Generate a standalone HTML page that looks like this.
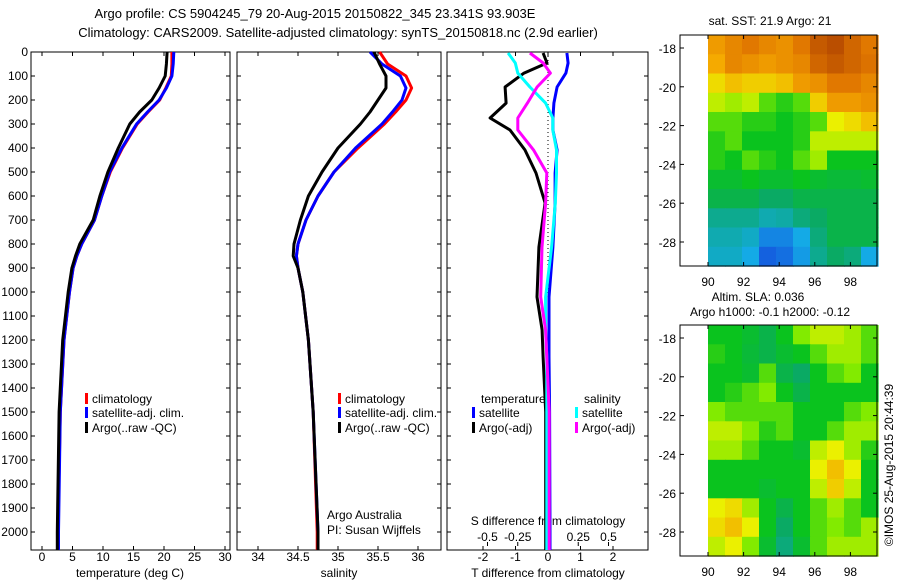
<!DOCTYPE html>
<html><head><meta charset="utf-8"><style>
html,body{margin:0;padding:0;background:#fff}
svg{display:block;font-family:"Liberation Sans",sans-serif}
</style></head><body>
<svg id="c" width="900" height="580" xmlns="http://www.w3.org/2000/svg"></svg>
<script>
// ---- data ----
const depths = [0,50,100,150,200,250,300,400,500,600,700,800,850,900,1000,1200,1500,2000,2075];
const tempArgo = [20.5,20.4,20.2,19.2,18,16,14.4,12.5,10.8,9.5,8.4,6.2,5.5,4.9,4.3,3.4,2.8,2.5,2.5];
const tempClim = [21.3,21.3,21.2,20.3,19.3,17.4,15.6,13.2,11.2,9.8,8.6,6.5,5.7,5.1,4.5,3.6,3.0,2.6,2.6];
const tempSat  = [21.6,21.5,21.3,20.4,19.2,17.3,15.5,13.1,11.1,9.8,8.6,6.5,5.7,5.1,4.5,3.6,3.0,2.7,2.7];
const salArgo = [35.45,35.52,35.6,35.6,35.5,35.4,35.28,35.0,34.8,34.63,34.53,34.45,34.44,34.5,34.56,34.63,34.69,34.75,34.75];
const salClim = [35.52,35.62,35.85,35.92,35.85,35.72,35.58,35.25,34.95,34.75,34.6,34.5,34.48,34.5,34.56,34.63,34.69,34.74,34.74];
const salSat  = [35.4,35.55,35.78,35.85,35.8,35.68,35.55,35.22,34.95,34.75,34.6,34.5,34.48,34.5,34.56,34.63,34.69,34.75,34.75];
const diffDepths = [4,46,88,146,213,275,325,408,504,629,813,1021,1158,1271,1500,2000,2075];
const tDiffArgo = [-0.15,-0.03,-0.74,-1.32,-1.29,-1.78,-1.17,-0.71,-0.37,-0.09,-0.28,-0.34,-0.18,-0.15,-0.07,-0.07,-0.07];
const tDiffSat  = [0.58,0.62,0.55,0.28,0.18,0.15,0.15,0.28,0.22,0.22,0.15,0.03,0.03,0.03,0.05,0.06,0.06];
const sDiffSat  = [-0.33,-0.27,-0.25,-0.15,-0.02,0.04,0.04,0.07,0.07,0.06,0.03,-0.02,-0.02,-0.01,-0.01,-0.01,-0.01];
const sDiffArgo = [-0.15,-0.04,0.02,-0.09,-0.17,-0.25,-0.25,-0.12,-0.01,-0.02,-0.05,-0.06,-0.02,-0.01,0.01,0.01,0.01];
const depthTicks = [0,100,200,300,400,500,600,700,800,900,1000,1100,1200,1300,1400,1500,1600,1700,1800,1900,2000];
const tempTicks = [0,5,10,15,20,25,30];
const salTicks = [34,34.5,35,35.5,36];
const salTickLabels = ['34','34.5','35','35.5','36'];
const tDiffTicks = [-2,-1,0,1,2];
const sDiffTicks = [-0.5,-0.25,0,0.25,0.5];
const sDiffTickLabels = ['-0.5','-0.25','0','0.25','0.5'];
const lonTicks = [90,92,94,96,98];
const latTicks = [-18,-20,-22,-24,-26,-28];
const sstGrid = [
[0.78,0.82,0.85,0.82,0.8,0.85,0.9,0.92,0.88,0.85],
[0.75,0.82,0.8,0.78,0.8,0.82,0.88,0.9,0.88,0.86],
[0.68,0.72,0.7,0.7,0.72,0.78,0.8,0.85,0.85,0.82],
[0.62,0.6,0.62,0.55,0.52,0.55,0.7,0.78,0.78,0.8],
[0.55,0.55,0.52,0.52,0.5,0.52,0.55,0.65,0.68,0.72],
[0.52,0.55,0.5,0.5,0.5,0.52,0.62,0.62,0.62,0.62],
[0.52,0.5,0.55,0.52,0.5,0.55,0.6,0.5,0.5,0.5],
[0.48,0.48,0.5,0.48,0.48,0.5,0.48,0.47,0.47,0.48],
[0.45,0.45,0.45,0.42,0.42,0.45,0.45,0.45,0.45,0.45],
[0.38,0.38,0.38,0.35,0.36,0.4,0.42,0.45,0.45,0.45],
[0.35,0.35,0.33,0.25,0.25,0.3,0.4,0.45,0.45,0.45],
[0.33,0.33,0.3,0.2,0.22,0.28,0.38,0.42,0.4,0.3]];
const slaGrid = [
[0.5,0.5,0.48,0.45,0.5,0.58,0.62,0.62,0.6,0.55],
[0.52,0.5,0.47,0.45,0.48,0.5,0.55,0.6,0.6,0.55],
[0.5,0.5,0.48,0.55,0.45,0.42,0.5,0.55,0.58,0.5],
[0.5,0.52,0.55,0.58,0.5,0.45,0.5,0.5,0.5,0.5],
[0.58,0.55,0.55,0.55,0.55,0.5,0.5,0.5,0.55,0.58],
[0.62,0.62,0.58,0.52,0.55,0.5,0.5,0.55,0.6,0.6],
[0.6,0.6,0.55,0.5,0.5,0.48,0.62,0.65,0.6,0.52],
[0.5,0.5,0.5,0.5,0.5,0.5,0.65,0.72,0.65,0.5],
[0.5,0.5,0.5,0.48,0.5,0.5,0.62,0.7,0.62,0.5],
[0.65,0.68,0.6,0.5,0.45,0.5,0.55,0.6,0.55,0.5],
[0.68,0.72,0.65,0.5,0.42,0.5,0.55,0.58,0.55,0.6],
[0.62,0.65,0.58,0.48,0.4,0.48,0.55,0.6,0.6,0.6]];

// ---- helpers ----
const svg = document.getElementById('c');
const NS = 'http://www.w3.org/2000/svg';
function el(tag, attrs, parent){const e=document.createElementNS(NS,tag);for(const k in attrs)e.setAttribute(k,attrs[k]);(parent||svg).appendChild(e);return e;}
function txt(x,y,s,anchor,size,parent){const t=el('text',{x:x,y:y,'font-size':size||12,'text-anchor':anchor||'middle',fill:'#000'},parent);t.textContent=s;return t;}
const yD = d => 52 + d*0.24;
const xT = v => 42 + v*6.1;
const xS = v => 258 + (v-34)*80;
const xTd = v => 548 + v*32.5;
const xSd = v => 548 + v*121;
function line(xs, ys, color, name, w){
  const pts = xs.map((v,i)=>xs[i].toFixed(1)+','+ys[i].toFixed(1)).join(' ');
  const p = el('polyline',{points:pts,fill:'none',stroke:color,'stroke-width':w||2.5,'stroke-linejoin':'round'});
  
  
  return p;
}
function frame(x1,y1,x2,y2,name){
  const r=el('rect',{x:x1,y:y1,width:x2-x1,height:y2-y1,fill:'none',stroke:'#000','stroke-width':1});
  
  
}

// titles
let t=txt(315,18,'Argo profile: CS 5904245_79 20-Aug-2015 20150822_345 23.341S 93.903E','middle',13);

t=txt(338,37,'Climatology: CARS2009. Satellite-adjusted climatology: synTS_20150818.nc (2.9d earlier)','middle',13);


const panels=[[31,230],[237,441],[447,648]];
const TOP=52,BOT=550;
panels.forEach((p,i)=>{
  frame(p[0],TOP,p[1],BOT,'profile-panel-'+(i+1));
  depthTicks.forEach(d=>{
    const y=yD(d);
    el('line',{x1:p[0],x2:p[0]+4,y1:y,y2:y,stroke:'#000'});
    el('line',{x1:p[1]-4,x2:p[1],y1:y,y2:y,stroke:'#000'});
    if(i===0){const l=txt(28,y+4,String(d),'end',12);}
  });
});
// panel 1 x ticks
tempTicks.forEach(v=>{const x=xT(v);el('line',{x1:x,x2:x,y1:BOT,y2:BOT-4,stroke:'#000'});el('line',{x1:x,x2:x,y1:TOP,y2:TOP+4,stroke:'#000'});
  const l=txt(x,561,String(v),'middle',12);});
t=txt(130,577,'temperature (deg C)','middle',12);
salTicks.forEach((v,i)=>{const x=xS(v);el('line',{x1:x,x2:x,y1:BOT,y2:BOT-4,stroke:'#000'});el('line',{x1:x,x2:x,y1:TOP,y2:TOP+4,stroke:'#000'});
  const l=txt(x,561,salTickLabels[i],'middle',12);});
t=txt(339,577,'salinity','middle',12);
tDiffTicks.forEach(v=>{const x=xTd(v);el('line',{x1:x,x2:x,y1:BOT,y2:BOT-4,stroke:'#000'});el('line',{x1:x,x2:x,y1:TOP,y2:TOP+4,stroke:'#000'});
  const l=txt(x,561,String(v),'middle',12);});
sDiffTicks.forEach((v,i)=>{const x=xSd(v);el('line',{x1:x,x2:x,y1:BOT-4,y2:BOT-8,stroke:'#000'});
  const l=txt(x,541,sDiffTickLabels[i],'middle',12);});
t=txt(548,525,'S difference from climatology','middle',12);
t=txt(548,577,'T difference from climatology','middle',12);
el('line',{x1:548,x2:548,y1:TOP,y2:BOT,stroke:'#000','stroke-dasharray':'1,3'});

// profiles
const yd = depths.map(yD);
line(tempClim.map(xT),yd,'#ff0000','temp-climatology-line',3);
line(tempSat.map(xT),yd,'#0000ff','temp-satellite-line',3);
line(tempArgo.map(xT),yd,'#000000','temp-argo-line',3);
line(salClim.map(xS),yd,'#ff0000','salinity-climatology-line',3);
line(salSat.map(xS),yd,'#0000ff','salinity-satellite-line',3);
line(salArgo.map(xS),yd,'#000000','salinity-argo-line',3);
const ydd = diffDepths.map(yD);
line(tDiffSat.map(xTd),ydd,'#0000ff','tdiff-satellite-line',3);
line(tDiffArgo.map(xTd),ydd,'#000000','tdiff-argo-line',3);
line(sDiffSat.map(xSd),ydd,'#00ffff','sdiff-satellite-line',3);
line(sDiffArgo.map(xSd),ydd,'#ff00ff','sdiff-argo-line',3);

// legends
function legendEntry(x,y,color,label,name){
  const g=el('g',{});
  el('rect',{x:x,y:y-10,width:3,height:11,fill:color},g);
  txt(x+7,y,label,'start',12,g);
}
legendEntry(85,403,'#ff0000','climatology','legend-climatology');
legendEntry(85,417,'#0000ff','satellite-adj. clim.','legend-satellite');
legendEntry(85,432,'#000000','Argo(..raw -QC)','legend-argo');
legendEntry(338,403,'#ff0000','climatology','legend-sal-climatology');
legendEntry(338,417,'#0000ff','satellite-adj. clim.','legend-sal-satellite');
legendEntry(338,432,'#000000','Argo(..raw -QC)','legend-sal-argo');
t=txt(481,403,'temperature','start',12);
t=txt(584,403,'salinity','start',12);
legendEntry(472,417,'#0000ff','satellite','legend-tdiff-satellite');
legendEntry(472,432,'#000000','Argo(-adj)','legend-tdiff-argo');
legendEntry(575,417,'#00ffff','satellite','legend-sdiff-satellite');
legendEntry(575,432,'#ff00ff','Argo(-adj)','legend-sdiff-argo');
t=txt(327,519,'Argo Australia','start',12);
t=txt(327,534,'PI: Susan Wijffels','start',12);

// maps
const stops=[[0.15,[20,60,220]],[0.3,[20,170,230]],[0.42,[10,170,100]],[0.5,[10,195,30]],[0.58,[130,235,0]],[0.65,[235,240,0]],[0.75,[245,170,0]],[0.85,[225,120,0]],[0.95,[170,60,0]]];
function cmap(v){
  if(v<=stops[0][0])return 'rgb('+stops[0][1]+')';
  for(let i=1;i<stops.length;i++){if(v<=stops[i][0]){const a=stops[i-1],b=stops[i],f=(v-a[0])/(b[0]-a[0]);
    return 'rgb('+a[1].map((c,k)=>Math.round(c+(b[1][k]-c)*f)).join(',')+')';}}
  return 'rgb('+stops[stops.length-1][1]+')';
}
function drawMap(top,grid,name){
  const lonX=l=>708+(l-90)*17.8;
  const latY=la=>top+13+(-18-la)*19.4;
  const g=el('g',{});
  const rows=grid.length,cols=grid[0].length;
  const lat0=-17.33,lat1=-29.24,lonA=90,lonB=99.55;
  grid.forEach((row,r)=>row.forEach((v,c)=>{
    const x0=lonX(lonA+(lonB-lonA)*c/cols),x1=lonX(lonA+(lonB-lonA)*(c+1)/cols);
    const y0=latY(lat0+(lat1-lat0)*r/rows),y1=latY(lat0+(lat1-lat0)*(r+1)/rows);
    const cell=el('rect',{x:x0.toFixed(1),y:y0.toFixed(1),width:(x1-x0+0.6).toFixed(1),height:(y1-y0+0.6).toFixed(1),fill:cmap(v)},g);
    
    
  }));
  frame(680,top,877,top+231,name+'-frame');
  lonTicks.forEach(l=>{const x=lonX(l);el('line',{x1:x,x2:x,y1:top+231,y2:top+227,stroke:'#000'});el('line',{x1:x,x2:x,y1:top,y2:top+4,stroke:'#000'});
    const lb=txt(x,top+251,String(l),'middle',12);});
  latTicks.forEach(la=>{const y=latY(la);el('line',{x1:680,x2:684,y1:y,y2:y,stroke:'#000'});el('line',{x1:873,x2:877,y1:y,y2:y,stroke:'#000'});
    const lb=txt(676,y+5,String(la),'end',12);});
}
drawMap(35,sstGrid,'sst-map');
drawMap(325,slaGrid,'sla-map');
t=txt(770,25,'sat. SST: 21.9 Argo: 21','middle',12);
t=txt(758,301,'Altim. SLA: 0.036','middle',12);
t=txt(770,316,'Argo h1000: -0.1 h2000: -0.12','middle',12);
t=txt(0,0,'©IMOS 25-Aug-2015 20:44:39','middle',12);t.setAttribute('transform','translate(893,465) rotate(-90)');

</script>
</body></html>
